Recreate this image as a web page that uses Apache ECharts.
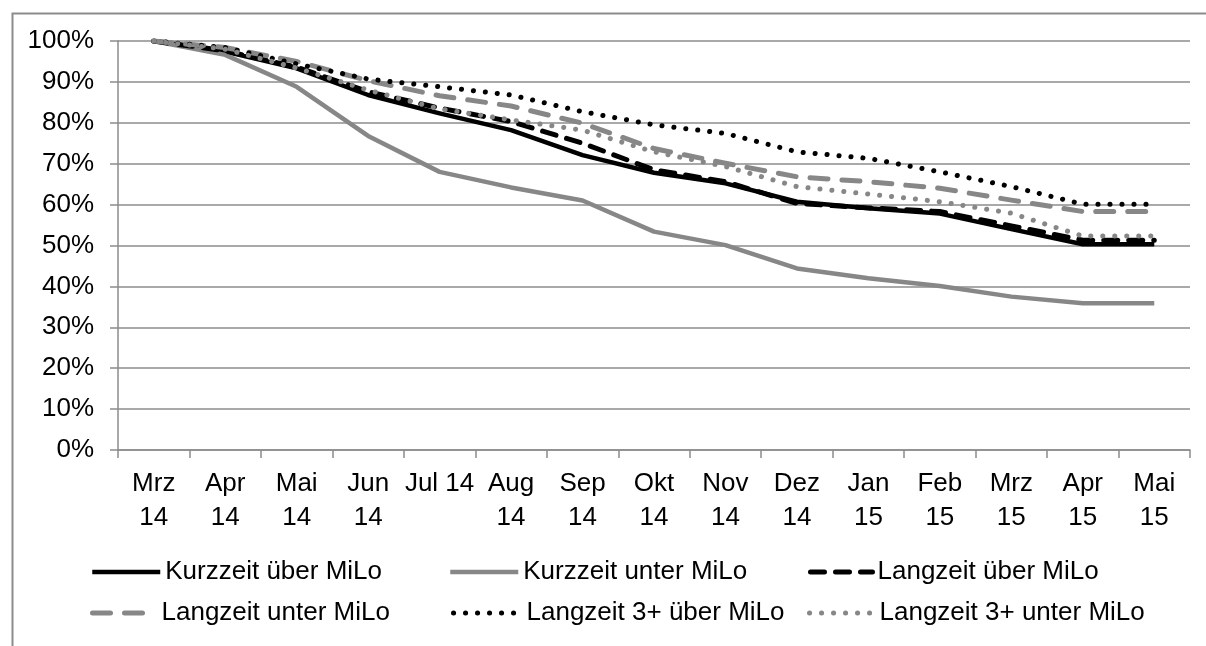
<!DOCTYPE html>
<html>
<head>
<meta charset="utf-8">
<script src="https://cdn.jsdelivr.net/npm/echarts@6/dist/echarts.min.js"></script>
<style>
  html, body { margin: 0; padding: 0; background: #fff; }
  #chart { width: 1206px; height: 646px; }
</style>
</head>
<body>
<div id="chart"></div>
<script>
const categories = ['Mrz\n14','Apr\n14','Mai\n14','Jun\n14','Jul 14','Aug\n14','Sep\n14','Okt\n14','Nov\n14','Dez\n14','Jan\n15','Feb\n15','Mrz\n15','Apr\n15','Mai\n15'];
const yTicks = [0,10,20,30,40,50,60,70,80,90,100];

const kurzUeber   = [100, 97.4, 93.3, 86.8, 82.3, 78.2, 72.1, 67.8, 65.2, 60.7, 59.1, 57.8, 54.0, 50.3, 50.3];
const kurzUnter   = [100, 96.6, 88.8, 76.8, 68.0, 64.2, 61.0, 53.4, 50.1, 44.4, 42.0, 40.1, 37.5, 35.9, 35.9];
const langUeber   = [100, 97.6, 93.6, 87.6, 83.6, 80.3, 75.0, 68.5, 65.6, 60.3, 59.2, 58.3, 54.8, 51.3, 51.3];
const langUnter   = [100, 98.4, 95.0, 90.3, 86.6, 84.1, 79.9, 73.7, 70.1, 66.8, 65.6, 64.0, 61.1, 58.3, 58.3];
const lang3Ueber  = [100, 98.4, 94.4, 90.7, 88.8, 86.8, 82.7, 79.5, 77.4, 72.9, 71.3, 68.0, 64.4, 60.1, 60.1];
const lang3Unter  = [100, 98.0, 93.4, 88.0, 83.4, 80.7, 78.2, 72.9, 69.3, 64.4, 62.6, 60.7, 57.9, 52.3, 52.3];

const names = ['Kurzzeit über MiLo','Kurzzeit unter MiLo','Langzeit über MiLo','Langzeit unter MiLo','Langzeit 3+ über MiLo','Langzeit 3+ unter MiLo'];

const BLACK = '#000000';
const GRAY = '#878787';
const FONT = 'Liberation Sans, Arial, sans-serif';

const styles = [
  { color: BLACK, type: 'solid', width: 4.5, cap: 'butt' },
  { color: GRAY,  type: 'solid', width: 4.5, cap: 'butt' },
  { color: BLACK, type: [14, 11], width: 5, cap: 'round' },
  { color: GRAY,  type: [18, 14], width: 5, cap: 'round' },
  { color: BLACK, type: [0.1, 11.9], width: 5, cap: 'round' },
  { color: GRAY,  type: [0.1, 11.9], width: 5, cap: 'round' }
];
const dataList = [kurzUeber, kurzUnter, langUeber, langUnter, lang3Ueber, lang3Unter];

const series = names.map((n, i) => ({
  name: n, type: 'line', data: dataList[i], symbol: 'none', showSymbol: false,
  lineStyle: { color: styles[i].color, width: styles[i].width, type: styles[i].type, cap: styles[i].cap, join: 'round' },
  itemStyle: { color: styles[i].color },
  emphasis: { disabled: true },
  animation: false
}));

const legendPos = [
  { left: 90,  top: 557, w: 68 },
  { left: 448, top: 557, w: 68 },
  { left: 808, top: 557, w: 62 },
  { left: 90,  top: 598, w: 64 },
  { left: 451, top: 598, w: 68 },
  { left: 807, top: 598, w: 65 }
];

const legends = names.map((n, i) => ({
  data: [n], left: legendPos[i].left, top: legendPos[i].top,
  itemWidth: legendPos[i].w, itemHeight: 14, itemGap: 0, padding: 0,
  selectedMode: false,
  itemStyle: { opacity: 0 },
  lineStyle: { color: styles[i].color, width: styles[i].width, type: styles[i].type, cap: styles[i].cap },
  textStyle: { fontFamily: FONT, fontSize: 26, color: '#000', lineHeight: 30 }
}));

const chart = echarts.init(document.getElementById('chart'), null, { renderer: 'canvas' });
chart.setOption({
  backgroundColor: '#ffffff',
  animation: false,
  graphic: [{
    type: 'rect', left: 10, top: 11, silent: true,
    shape: { x: 0, y: 0, width: 1300, height: 700 },
    style: { fill: 'none', stroke: '#8c8c8c', lineWidth: 2 }
  }],
  grid: { left: 118, right: 16, top: 41, bottom: 196, containLabel: false },
  legend: legends,
  xAxis: {
    type: 'category', data: categories, boundaryGap: true,
    axisLine: { lineStyle: { color: '#8c8c8c', width: 1.5 } },
    axisTick: { show: true, length: 8, alignWithLabel: false, lineStyle: { color: '#8c8c8c', width: 1.5 } },
    axisLabel: { interval: 0, margin: 17, fontFamily: FONT, fontSize: 26, color: '#000', lineHeight: 34 }
  },
  yAxis: {
    type: 'value', min: 0, max: 100, interval: 10,
    axisLine: { show: true, lineStyle: { color: '#8c8c8c', width: 1.5 } },
    axisTick: { show: true, length: 8, lineStyle: { color: '#8c8c8c', width: 1.5 } },
    splitLine: { lineStyle: { color: '#8c8c8c', width: 1.5 } },
    axisLabel: { margin: 24, fontFamily: FONT, fontSize: 26, color: '#000',
      formatter: v => yTicks.indexOf(v) >= 0 ? v + '%' : '' }
  },
  series: series
});
</script>
</body>
</html>
